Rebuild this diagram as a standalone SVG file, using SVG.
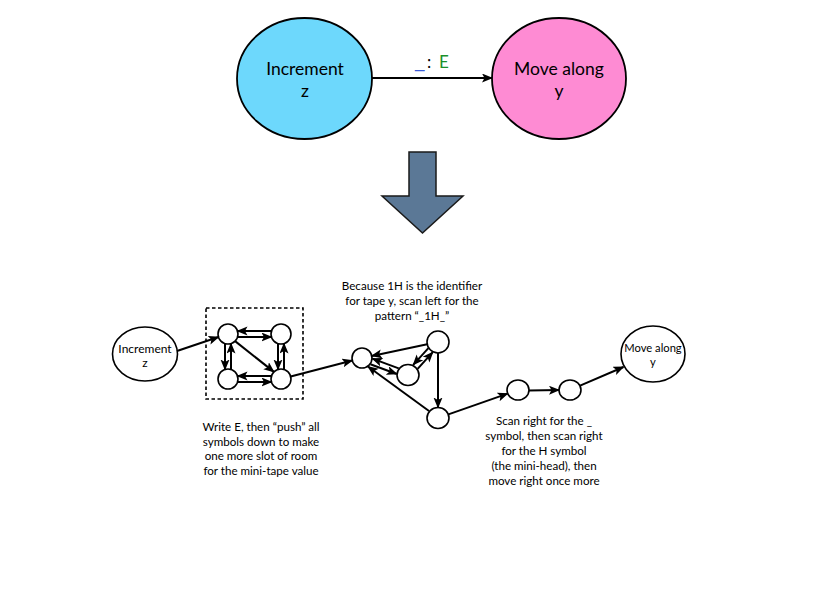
<svg xmlns="http://www.w3.org/2000/svg" width="823" height="590" viewBox="0 0 823 590">
<style>
  .lbl { font-family: Lato, "Liberation Sans", sans-serif; fill: #000; text-anchor: middle; }
  .big { font-size: 17.5px; }
  .sm { font-size: 12px; }
  .para { font-size: 11.6px; }
  .node { stroke: #000; stroke-width: 1.6; fill: #fff; }
  .edge { stroke: #000; stroke-width: 2; fill: none; marker-end: url(#ah); }
</style>
<defs>
  <marker id="ah" markerUnits="userSpaceOnUse" markerWidth="12" markerHeight="10" refX="10" refY="4.5" orient="auto">
    <path d="M0,0 L11,4.5 L0,9 L2.5,4.5 Z" fill="#000"/>
  </marker>
</defs>
<rect width="823" height="590" fill="#fff"/>

<g id="top-increment">
  <ellipse cx="304.5" cy="78.5" rx="67.5" ry="60.5" fill="#6dd8fc" stroke="#000" stroke-width="1.8"/>
  <text class="lbl big" x="305" y="75">Increment</text>
  <text class="lbl big" x="305" y="97">z</text>
</g>
<g id="top-move">
  <ellipse cx="559" cy="78.5" rx="67" ry="60.5" fill="#fe8bd3" stroke="#000" stroke-width="1.8"/>
  <text class="lbl big" x="559" y="75">Move along</text>
  <text class="lbl big" x="559" y="97">y</text>
</g>
<g id="top-connectors">
  <line class="edge" x1="372" y1="78" x2="492" y2="78"/>
  <text style="font-family: Lato, 'Liberation Sans', sans-serif; font-size:17px;" y="68">
    <tspan x="415" fill="#3a5bd9" style="font-family:'Liberation Sans', sans-serif;">_</tspan><tspan x="427" fill="#000">:</tspan><tspan x="439" fill="#1a8f2a">E</tspan>
  </text>
</g>

<g id="big-arrow">
  <polygon points="409,152 436,152 436,196 463,196 422.5,233 382,196 409,196" fill="#5b7896" stroke="#1a1a1a" stroke-width="1.5" stroke-linejoin="miter"/>
</g>

<g id="n-inc">
  <ellipse class="node" cx="145" cy="354" rx="32.5" ry="27"/>
  <text class="lbl sm" x="145" y="353">Increment</text>
  <text class="lbl sm" x="145" y="367">z</text>
</g>
<g id="box">
  <rect x="206" y="308" width="97" height="91" fill="none" stroke="#000" stroke-width="1.6" stroke-dasharray="3.5,2.5"/>
</g>
<g id="n-tl"><circle class="node" cx="228" cy="334" r="10"/></g>
<g id="n-tr"><circle class="node" cx="281" cy="334" r="10"/></g>
<g id="n-bl"><circle class="node" cx="228" cy="379" r="10"/></g>
<g id="n-br"><circle class="node" cx="281" cy="379" r="10"/></g>
<g id="n-a"><circle class="node" cx="362" cy="358" r="10"/></g>
<g id="n-b"><ellipse class="node" cx="438" cy="342" rx="11" ry="11"/></g>
<g id="n-c"><ellipse class="node" cx="408" cy="375" rx="11" ry="10.5"/></g>
<g id="n-d"><ellipse class="node" cx="438" cy="418" rx="11" ry="10.5"/></g>
<g id="n-e"><ellipse class="node" cx="518" cy="390" rx="11" ry="10"/></g>
<g id="n-f"><ellipse class="node" cx="570" cy="390" rx="11" ry="10"/></g>
<g id="n-move">
  <ellipse class="node" cx="653" cy="354" rx="32" ry="28"/>
  <text class="lbl" style="font-size:11.2px" x="653" y="352">Move along</text>
  <text class="lbl" style="font-size:11.2px" x="653" y="366">y</text>
</g>

<g id="connectors">
  <line class="edge" x1="177" y1="351" x2="218.5" y2="337"/>
  <line class="edge" x1="271.5" y1="331" x2="237.5" y2="331"/>
  <line class="edge" x1="237.5" y1="337" x2="271.5" y2="337"/>
  <line class="edge" x1="271.5" y1="376" x2="237.5" y2="376"/>
  <line class="edge" x1="237.5" y1="382" x2="271.5" y2="382"/>
  <line class="edge" x1="225" y1="343.5" x2="225" y2="369.5"/>
  <line class="edge" x1="231" y1="369.5" x2="231" y2="343.5"/>
  <line class="edge" x1="278" y1="343.5" x2="278" y2="369.5"/>
  <line class="edge" x1="284" y1="369.5" x2="284" y2="343.5"/>
  <line class="edge" x1="235.1" y1="341.1" x2="273.9" y2="371.9"/>
  <line class="edge" x1="290.7" y1="376.5" x2="352.3" y2="360.5"/>
  <line class="edge" x1="427.2" y1="344.3" x2="371.8" y2="355.9"/>
  <line class="edge" x1="398.7" y1="368.4" x2="372.4" y2="358.6"/>
  <line class="edge" x1="370.4" y1="364.3" x2="396.7" y2="374"/>
  <line class="edge" x1="428.4" y1="348.1" x2="413.2" y2="364.8"/>
  <line class="edge" x1="417.6" y1="368.9" x2="432.8" y2="352.2"/>
  <line class="edge" x1="438" y1="353" x2="438" y2="407.5"/>
  <line class="edge" x1="429" y1="411" x2="368" y2="366.5"/>
  <line class="edge" x1="448.4" y1="414.4" x2="507.6" y2="393.6"/>
  <line class="edge" x1="529" y1="390.5" x2="559" y2="390"/>
  <line class="edge" x1="580.1" y1="385.6" x2="623.5" y2="367"/>
</g>

<g id="notes">
  <text class="lbl para" x="261" y="431">Write E, then “push” all</text>
  <text class="lbl para" x="261" y="445.5">symbols down to make</text>
  <text class="lbl para" x="261" y="460">one more slot of room</text>
  <text class="lbl para" x="261" y="474.5">for the mini-tape value</text>

  <text class="lbl para" x="412" y="290">Because 1H is the identifier</text>
  <text class="lbl para" x="412" y="305">for tape y, scan left for the</text>
  <text class="lbl para" x="412" y="320">pattern “_1H_”</text>

  <text class="lbl para" x="544" y="425">Scan right for the _</text>
  <text class="lbl para" x="544" y="440">symbol, then scan right</text>
  <text class="lbl para" x="544" y="455">for the H symbol</text>
  <text class="lbl para" x="544" y="470">(the mini-head), then</text>
  <text class="lbl para" x="544" y="485">move right once more</text>
</g>
</svg>
